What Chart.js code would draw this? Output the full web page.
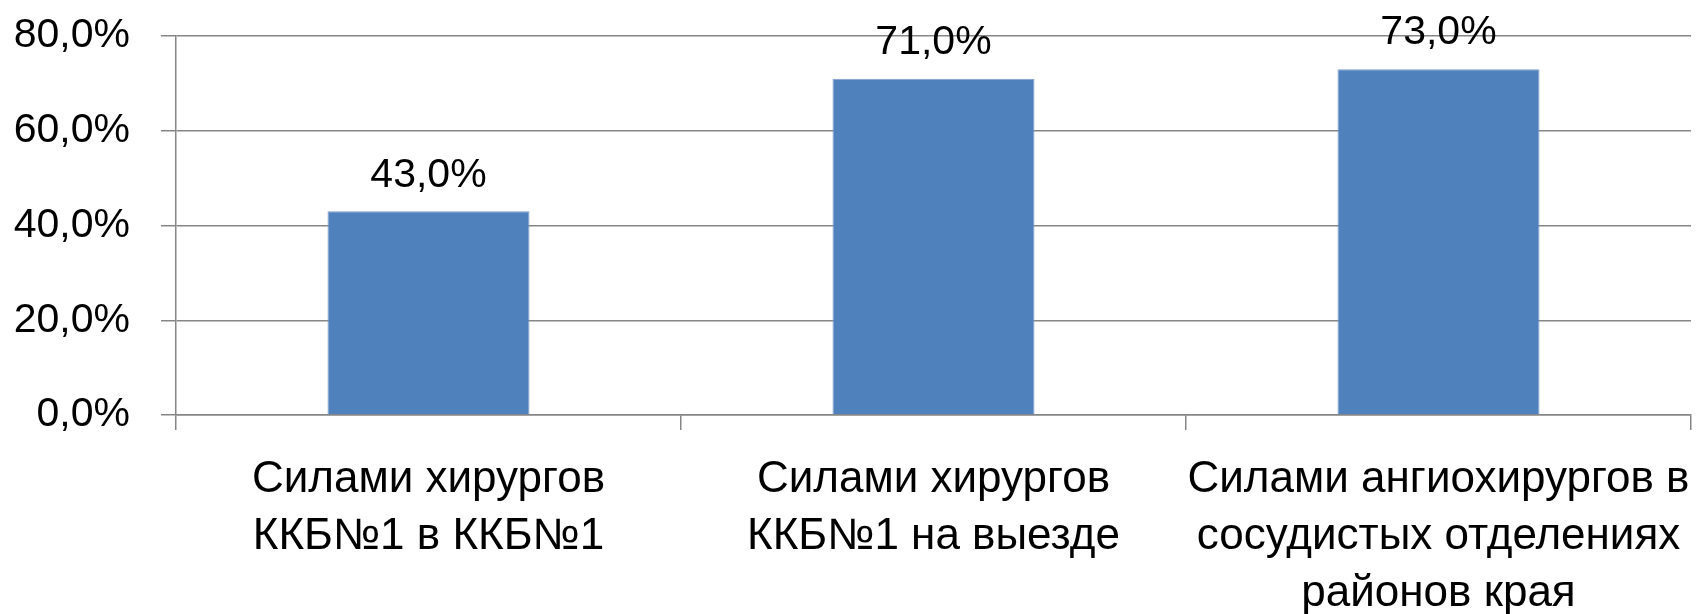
<!DOCTYPE html>
<html>
<head>
<meta charset="utf-8">
<script src="https://cdn.jsdelivr.net/npm/chart.js@4"></script>
<style>
  html, body { margin: 0; padding: 0; background: #fff; }
  #wrap { width: 1705px; height: 614px; }
</style>
</head>
<body>
<div id="wrap"><canvas id="barChart"></canvas></div>
<script>
const categories = [
  ['Силами хирургов', 'ККБ№1 в ККБ№1'],
  ['Силами хирургов', 'ККБ№1 на выезде'],
  ['Силами ангиохирургов в', 'сосудистых отделениях', 'районов края']
];
const shares = [43, 71, 73];
const yTicks = [0, 20, 40, 60, 80];

const fmt = v => v.toFixed(1).replace('.', ',') + '%';
const FONT = "'Liberation Sans', Arial, sans-serif";

// value labels above each bar
const barValues = {
  id: 'barValues',
  afterDatasetsDraw(chart) {
    const ctx = chart.ctx;
    const meta = chart.getDatasetMeta(0);
    ctx.save();
    ctx.font = '41px ' + FONT;
    ctx.fillStyle = '#000';
    ctx.textAlign = 'center';
    ctx.textBaseline = 'middle';
    meta.data.forEach((bar, i) => {
      ctx.fillText(fmt(shares[i]), bar.x, bar.y - 36);
    });
    ctx.restore();
  }
};

const barCtx = document.getElementById('barChart').getContext('2d');
new Chart(barCtx, {
  type: 'bar',
  data: {
    labels: categories,
    datasets: [{
      data: shares,
      backgroundColor: '#4F81BD',
      borderColor: '#7f9ccb',
      borderWidth: 1,
      categoryPercentage: 1,
      barPercentage: 0.4
    }]
  },
  plugins: [barValues],
  options: {
    responsive: true,
    maintainAspectRatio: false,
    animation: false,
    layout: { padding: { top: 36, right: 14, bottom: 0, left: 0 } },
    plugins: { legend: { display: false }, tooltip: { enabled: false } },
    scales: {
      x: {
        afterFit(axis) {
          axis.height = 199;
          axis.paddingLeft = 0;
          axis.paddingRight = 0;
        },
        grid: {
          offset: true,
          drawOnChartArea: false,
          drawTicks: true,
          tickLength: 15,
          lineWidth: 1.5,
          color: '#868686'
        },
        border: { display: true, color: '#868686', width: 1.5 },
        ticks: {
          color: '#000',
          padding: 21,
          autoSkip: false,
          maxRotation: 0,
          minRotation: 0,
          font: { family: FONT, size: 44, lineHeight: 1.3 }
        }
      },
      y: {
        min: 0,
        max: 80,
        afterFit(axis) {
          axis.width = 176;
          axis.paddingTop = 0;
          axis.paddingBottom = 0;
        },
        afterBuildTicks(axis) { axis.ticks = yTicks.map(v => ({ value: v })); },
        grid: { color: '#868686', tickLength: 15, lineWidth: 1.5 },
        border: { display: true, color: '#868686', width: 1.5 },
        ticks: {
          color: '#000',
          padding: 31,
          font: { family: FONT, size: 41 },
          callback: v => fmt(v)
        }
      }
    }
  }
});
</script>
</body>
</html>
